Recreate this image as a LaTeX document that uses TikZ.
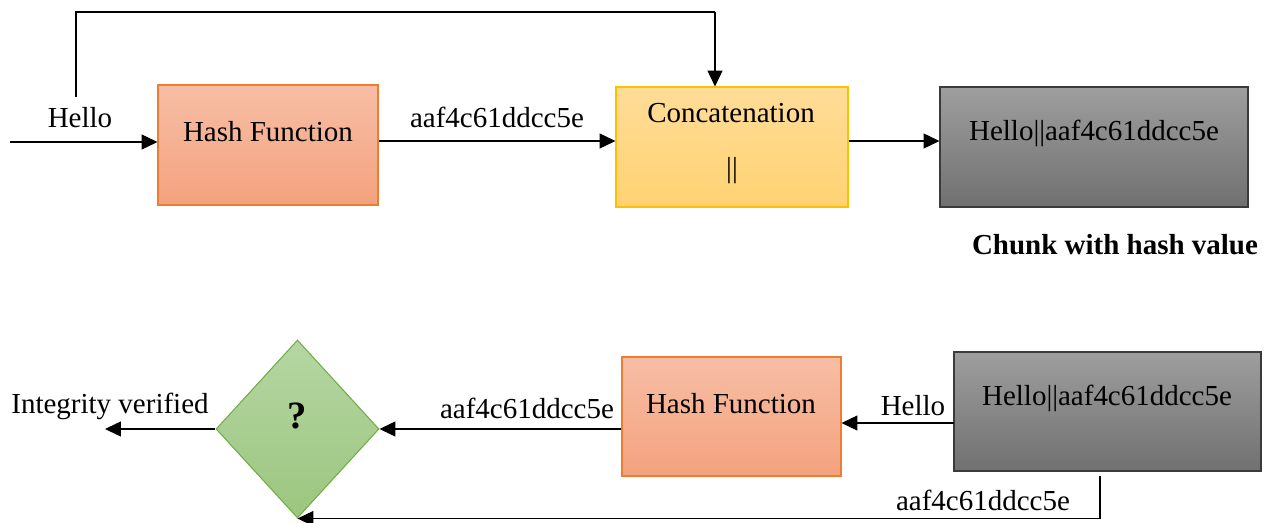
\documentclass[tikz,border=0pt]{standalone}
\usepackage{fontspec}
\setmainfont{Liberation Serif}
\usetikzlibrary{arrows.meta,shapes.geometric}

\newlength{\du}
\setlength{\du}{0.02cm}

\definecolor{hashtop}{rgb}{0.969000, 0.745000, 0.647000}
\definecolor{hashbottom}{rgb}{0.957000, 0.635000, 0.494000}
\definecolor{hashline}{rgb}{0.929000, 0.490000, 0.192000}
\definecolor{cattop}{rgb}{1.000000, 0.863000, 0.596000}
\definecolor{catbottom}{rgb}{1.000000, 0.827000, 0.447000}
\definecolor{catline}{rgb}{1.000000, 0.753000, 0.000000}
\definecolor{chunktop}{rgb}{0.620000, 0.620000, 0.620000}
\definecolor{chunkbottom}{rgb}{0.440000, 0.440000, 0.440000}
\definecolor{chunkline}{rgb}{0.230000, 0.230000, 0.230000}
\definecolor{checktop}{rgb}{0.710000, 0.839000, 0.639000}
\definecolor{checkbottom}{rgb}{0.612000, 0.776000, 0.498000}
\definecolor{checkline}{rgb}{0.439000, 0.678000, 0.278000}

\tikzset{
  hashbox/.style={draw=hashline, top color=hashtop, bottom color=hashbottom,
    minimum width=220\du, minimum height=120\du, inner sep=0pt, line width=0.6pt},
  catbox/.style={draw=catline, top color=cattop, bottom color=catbottom,
    minimum width=232\du, minimum height=120\du, inner sep=0pt, line width=0.6pt},
  chunkbox/.style={draw=chunkline, top color=chunktop, bottom color=chunkbottom,
    minimum width=308\du, minimum height=120\du, inner sep=0pt, line width=0.6pt},
  checkbox/.style={diamond, draw=checkline, top color=checktop, bottom color=checkbottom,
    minimum width=163\du, minimum height=178\du, inner sep=0pt, line width=0.6pt},
  lbl/.style={font=\fontsize{16.5}{19}\selectfont, inner sep=0pt},
  flowline/.style={line width=0.6pt, -{Triangle[length=9pt,width=8.5pt]}},
  plainline/.style={line width=0.6pt},
}

\begin{document}
\begin{tikzpicture}
\pgftransformxscale{1.000000}
\pgftransformyscale{-1.000000}
\useasboundingbox (0\du,0\du) rectangle (1277\du,523\du);
% sender side
\node[hashbox] (hashA) at (268\du,145\du){};
\node[lbl] (hashAtext) at (268\du,132\du){Hash Function};
\node[catbox] (concat) at (732\du,147\du){};
\node[lbl] (concattext) at (731\du,113\du){Concatenation};
\node[lbl] (concatbar) at (732\du,171\du){||};
\node[chunkbox] (chunkA) at (1094\du,147\du){};
\node[lbl] (chunkAtext) at (1094\du,133\du){Hello||aaf4c61ddcc5e};
\node[lbl] (chunkAcap) at (1115\du,245\du){\textbf{Chunk with hash value}};
\coordinate (msgin) at (10\du,142\du);
\coordinate (msgup) at (76\du,97\du);
\coordinate (msgtop) at (715\du,12\du);
\node[lbl] (msgAlbl) at (80\du,118\du){Hello};
\node[lbl] (hashAlbl) at (497\du,117\du){aaf4c61ddcc5e};
\draw[flowline] (msgin)--(msgin -| hashA.west);
\draw[plainline] (msgup) |- (msgtop);
\draw[flowline] (msgtop)--(msgtop |- concat.north);
\draw[flowline] (hashA.east |- 0,141\du)--(concat.west |- 0,141\du);
\draw[flowline] (concat.east |- 0,141\du)--(chunkA.west |- 0,141\du);
% receiver side
\node[chunkbox, minimum width=307\du, minimum height=119\du] (chunkB) at (1107.5\du,411.5\du){};
\node[lbl] (chunkBtext) at (1107\du,398\du){Hello||aaf4c61ddcc5e};
\node[hashbox, minimum width=219\du, minimum height=119\du] (hashB) at (731.5\du,416.5\du){};
\node[lbl] (hashBtext) at (731\du,404\du){Hash Function};
\node[checkbox] (check) at (297.5\du,429\du){};
\node[lbl, font=\fontsize{22}{26}\selectfont] (checktext) at (297\du,416\du){\textbf{?}};
\node[lbl] (msgBlbl) at (913\du,406\du){Hello};
\node[lbl] (hashBlbl) at (527\du,408\du){aaf4c61ddcc5e};
\node[lbl] (outlbl) at (110\du,406\du){Integrity verified};
\node[lbl] (retlbl) at (983\du,500\du){aaf4c61ddcc5e};
\coordinate (msgBin) at (954\du,423\du);
\coordinate (verified) at (105\du,429\du);
\coordinate (ret) at (1100\du,476\du);
\draw[flowline] (msgBin)--(msgBin -| hashB.east);
\draw[flowline] (hashB.west |- check.east)--(check.east);
\draw[flowline] (check.west)--(verified);
\draw[flowline] (ret) |- (check.south);
\end{tikzpicture}
\end{document}
